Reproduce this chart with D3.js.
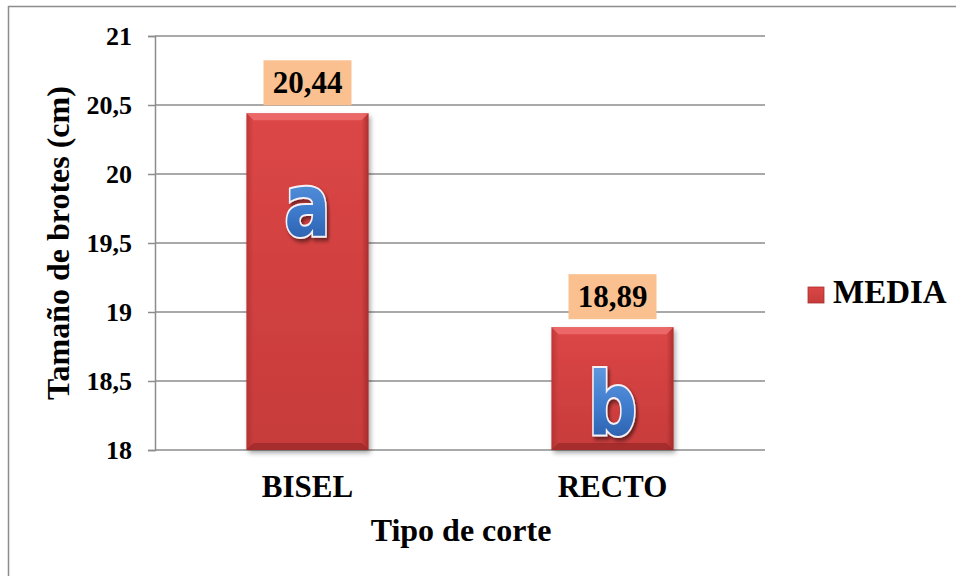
<!DOCTYPE html>
<html>
<head>
<meta charset="utf-8">
<script src="https://cdn.jsdelivr.net/npm/d3@7"></script>
<style>
  html, body { margin: 0; padding: 0; background: #fff; }
  svg { display: block; }
</style>
</head>
<body>
<svg id="chart" width="956" height="576"></svg>
<script>
// Shoot length by type of cut
const categories = ["BISEL", "RECTO"];
const values = [20.44, 18.89];
const valueLabels = ["20,44", "18,89"];
const groupLetters = ["a", "b"];
const yTicks = [18, 18.5, 19, 19.5, 20, 20.5, 21];
const yTickLabels = ["18", "18,5", "19", "19,5", "20", "20,5", "21"];
const seriesName = "MEDIA";
const yTitle = "Tamaño de brotes (cm)";
const xTitle = "Tipo de corte";

const svg = d3.select("#chart");
const FONT = "'Liberation Serif', 'Times New Roman', serif";

const plot = { left: 155, right: 765, top: 36, bottom: 450 };

const x = d3.scaleBand()
  .domain(categories)
  .range([plot.left, plot.right])
  .paddingInner(0.6)
  .paddingOuter(0.3);

const y = d3.scaleLinear()
  .domain([18, 21])
  .range([plot.bottom, plot.top]);

// Defs: bar gradient, bevel highlights, letter gradient, shadows
const defs = svg.append("defs");

const barGrad = defs.append("linearGradient").attr("id", "barGrad")
  .attr("x1", 0).attr("y1", 0).attr("x2", 0).attr("y2", 1);
barGrad.append("stop").attr("offset", "0%").attr("stop-color", "#dc4646");
barGrad.append("stop").attr("offset", "100%").attr("stop-color", "#c73b3b");

const sideGradL = defs.append("linearGradient").attr("id", "sideL")
  .attr("x1", 0).attr("y1", 0).attr("x2", 1).attr("y2", 0);
sideGradL.append("stop").attr("offset", "0%").attr("stop-color", "#a02828").attr("stop-opacity", 0.5);
sideGradL.append("stop").attr("offset", "100%").attr("stop-color", "#a02828").attr("stop-opacity", 0);

const sideGradR = defs.append("linearGradient").attr("id", "sideR")
  .attr("x1", 0).attr("y1", 0).attr("x2", 1).attr("y2", 0);
sideGradR.append("stop").attr("offset", "0%").attr("stop-color", "#8e2020").attr("stop-opacity", 0);
sideGradR.append("stop").attr("offset", "100%").attr("stop-color", "#8e2020").attr("stop-opacity", 0.6);

const letterGrad = defs.append("linearGradient").attr("id", "letterGrad")
  .attr("x1", 0).attr("y1", 0).attr("x2", 0).attr("y2", 1);
letterGrad.append("stop").attr("offset", "0%").attr("stop-color", "#6aa2e4");
letterGrad.append("stop").attr("offset", "55%").attr("stop-color", "#3d7acc");
letterGrad.append("stop").attr("offset", "100%").attr("stop-color", "#24549e");

const shadow = defs.append("filter").attr("id", "barShadow")
  .attr("x", "-10%").attr("y", "-10%").attr("width", "130%").attr("height", "130%");
shadow.append("feGaussianBlur").attr("in", "SourceAlpha").attr("stdDeviation", 2.5);
shadow.append("feOffset").attr("dx", 2).attr("dy", 3).attr("result", "ob");
shadow.append("feComponentTransfer").append("feFuncA").attr("type", "linear").attr("slope", 0.35);
const m1 = shadow.append("feMerge");
m1.append("feMergeNode");
m1.append("feMergeNode").attr("in", "SourceGraphic");

const letterShadow = defs.append("filter").attr("id", "letterShadow")
  .attr("x", "-20%").attr("y", "-20%").attr("width", "150%").attr("height", "150%");
letterShadow.append("feGaussianBlur").attr("in", "SourceAlpha").attr("stdDeviation", 2);
letterShadow.append("feOffset").attr("dx", 2).attr("dy", 3).attr("result", "ob");
letterShadow.append("feComponentTransfer").append("feFuncA").attr("type", "linear").attr("slope", 0.5);
const m2 = letterShadow.append("feMerge");
m2.append("feMergeNode");
m2.append("feMergeNode").attr("in", "SourceGraphic");

// Outer chart border
svg.append("rect")
  .attr("x", 8.5).attr("y", 6.5)
  .attr("width", 960).attr("height", 580)
  .attr("fill", "none").attr("stroke", "#8c8c8c").attr("stroke-width", 1.5);

// Gridlines
svg.append("g")
  .selectAll("line")
  .data(yTicks)
  .join("line")
  .attr("x1", plot.left).attr("x2", plot.right)
  .attr("y1", d => y(d)).attr("y2", d => y(d))
  .attr("stroke", "#8c8c8c").attr("stroke-width", 1.5);

// Y axis
const yAxis = d3.axisLeft(y)
  .tickValues(yTicks)
  .tickFormat((d, i) => yTickLabels[i])
  .tickSize(7)
  .tickPadding(16);

const gy = svg.append("g")
  .attr("transform", `translate(${plot.left},0)`)
  .call(yAxis);
gy.select(".domain").attr("stroke", "#8c8c8c").attr("stroke-width", 1.5);
gy.selectAll(".tick line").attr("stroke", "#8c8c8c").attr("stroke-width", 1.5);
gy.selectAll(".tick text")
  .attr("font-family", FONT).attr("font-weight", "bold")
  .attr("font-size", 26).attr("fill", "#000");

// X axis (labels only, baseline drawn by gridline at 18)
const xAxis = d3.axisBottom(x).tickSize(0);
const gx = svg.append("g")
  .attr("transform", `translate(0,${plot.bottom})`)
  .call(xAxis);
gx.select(".domain").remove();
gx.selectAll(".tick text")
  .attr("y", 47).attr("dy", 0)
  .attr("font-family", FONT).attr("font-weight", "bold")
  .attr("font-size", 31).attr("fill", "#000");

// Bars
const data = categories.map((c, i) => ({
  cat: c, value: values[i], label: valueLabels[i], letter: groupLetters[i]
}));

const bars = svg.append("g").selectAll("g").data(data).join("g");

bars.append("rect")
  .attr("x", d => x(d.cat))
  .attr("y", d => y(d.value))
  .attr("width", x.bandwidth())
  .attr("height", d => y(18) - y(d.value))
  .attr("fill", "url(#barGrad)")
  .attr("filter", "url(#barShadow)");

// Bevel edges
const bevel = 7;
bars.append("rect")
  .attr("x", d => x(d.cat)).attr("y", d => y(d.value))
  .attr("width", bevel).attr("height", d => y(18) - y(d.value))
  .attr("fill", "url(#sideL)");
bars.append("rect")
  .attr("x", d => x(d.cat) + x.bandwidth() - bevel).attr("y", d => y(d.value))
  .attr("width", bevel).attr("height", d => y(18) - y(d.value))
  .attr("fill", "url(#sideR)");
bars.append("path")
  .attr("d", d => {
    const x0 = x(d.cat), x1 = x0 + x.bandwidth(), y0 = y(d.value);
    return `M${x0},${y0}L${x1},${y0}L${x1 - bevel},${y0 + bevel}L${x0 + bevel},${y0 + bevel}Z`;
  })
  .attr("fill", "#f07070").attr("opacity", 0.8);
bars.append("path")
  .attr("d", d => {
    const x0 = x(d.cat), x1 = x0 + x.bandwidth(), y1 = y(18);
    return `M${x0},${y1}L${x1},${y1}L${x1 - bevel},${y1 - bevel}L${x0 + bevel},${y1 - bevel}Z`;
  })
  .attr("fill", "#9a2626").attr("opacity", 0.7);

// Value labels with peach background
const boxW = 88, boxH = 45, boxGap = 8;
bars.append("rect")
  .attr("x", d => x(d.cat) + x.bandwidth() / 2 - boxW / 2)
  .attr("y", d => y(d.value) - boxGap - boxH)
  .attr("width", boxW).attr("height", boxH)
  .attr("fill", "#fac090");
bars.append("text")
  .attr("x", d => x(d.cat) + x.bandwidth() / 2)
  .attr("y", d => y(d.value) - boxGap - 12)
  .attr("text-anchor", "middle")
  .attr("font-family", FONT).attr("font-weight", "bold")
  .attr("font-size", 31).attr("fill", "#000")
  .text(d => d.label);

// Significance letters, narrowed around their centre
const letterY = [236, 434];
bars.append("text")
  .attr("transform", (d, i) => {
    const cx = x(d.cat) + x.bandwidth() / 2;
    return `translate(${cx},${letterY[i]}) scale(0.78,1)`;
  })
  .attr("text-anchor", "middle")
  .attr("font-family", "'DejaVu Sans', Verdana, sans-serif")
  .attr("font-weight", "bold")
  .attr("font-size", 88)
  .attr("fill", "url(#letterGrad)")
  .attr("stroke", "#f4f0f4").attr("stroke-width", 4)
  .attr("paint-order", "stroke")
  .attr("filter", "url(#letterShadow)")
  .text(d => d.letter);

// Axis titles
svg.append("text")
  .attr("transform", `translate(58,${(plot.top + plot.bottom) / 2}) rotate(-90)`)
  .attr("text-anchor", "middle")
  .attr("dy", "0.35em")
  .attr("font-family", FONT).attr("font-weight", "bold")
  .attr("font-size", 32).attr("fill", "#000")
  .text(yTitle);

svg.append("text")
  .attr("x", 461)
  .attr("y", 541)
  .attr("text-anchor", "middle")
  .attr("font-family", FONT).attr("font-weight", "bold")
  .attr("font-size", 32).attr("fill", "#000")
  .text(xTitle);

// Legend
const legend = svg.append("g").attr("transform", "translate(808,287)");
legend.append("rect")
  .attr("width", 16).attr("height", 16)
  .attr("fill", "url(#barGrad)")
  .attr("stroke", "#a83030").attr("stroke-width", 0.8);
legend.append("text")
  .attr("x", 25).attr("y", 16)
  .attr("font-family", FONT).attr("font-weight", "bold")
  .attr("font-size", 33).attr("fill", "#000")
  .text(seriesName);
</script>
</body>
</html>
